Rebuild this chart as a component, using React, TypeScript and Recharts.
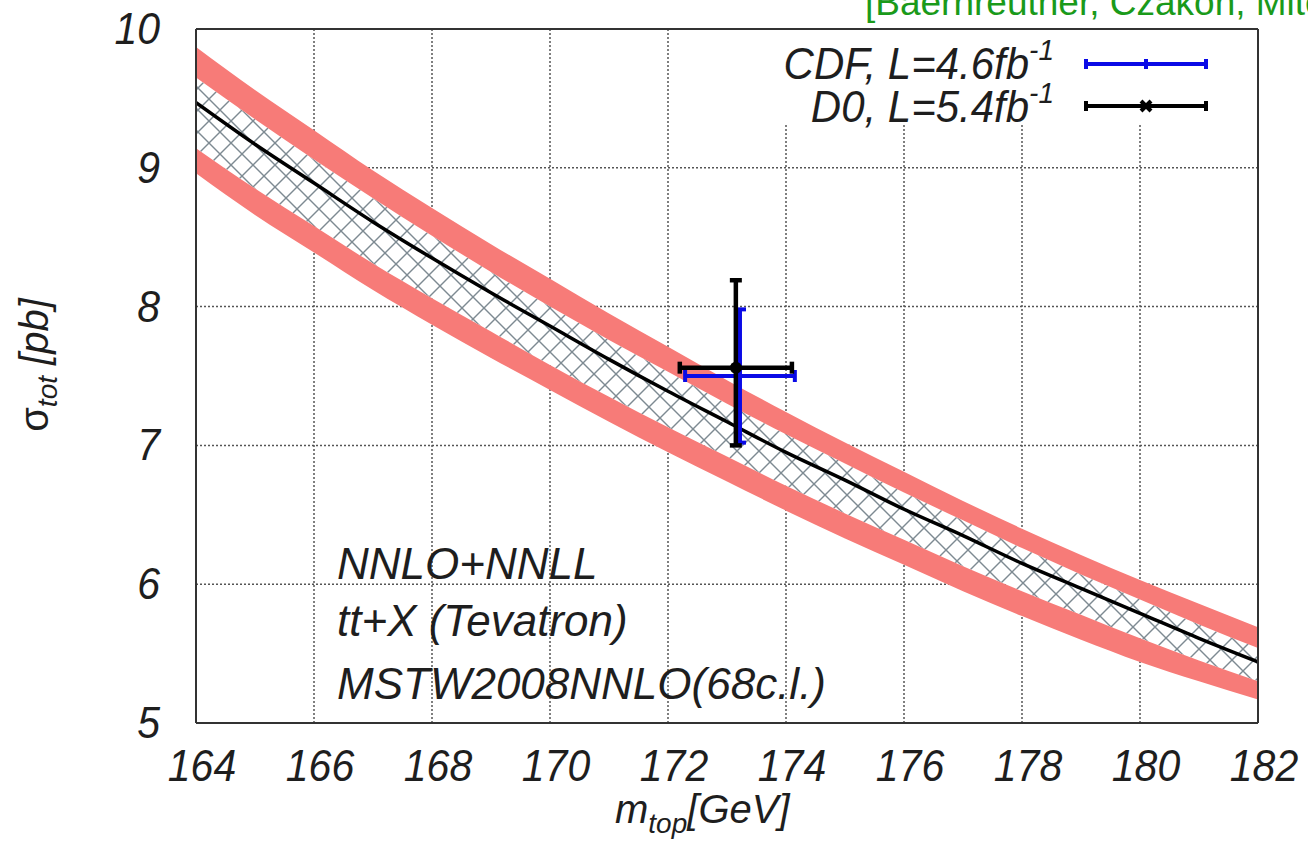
import React from 'react';
import {
  ComposedChart,
  Area,
  Line,
  Scatter,
  ErrorBar,
  XAxis,
  YAxis,
  CartesianGrid,
  ReferenceArea,
} from 'recharts';

// ---- data ----
const MASS = [164, 165, 166, 167, 168, 169, 170, 171, 172, 173, 174, 175, 176, 177, 178, 179, 180, 181, 182];
const CENTRAL = [9.47, 9.17, 8.89, 8.61, 8.35, 8.10, 7.86, 7.62, 7.39, 7.17, 6.95, 6.75, 6.54, 6.35, 6.15, 5.97, 5.79, 5.61, 5.44];
const UPPER_OUTER = [9.87, 9.56, 9.27, 8.98, 8.71, 8.45, 8.20, 7.95, 7.71, 7.47, 7.24, 7.02, 6.81, 6.60, 6.40, 6.21, 6.03, 5.86, 5.69];
const UPPER_INNER = [9.65, 9.35, 9.06, 8.78, 8.51, 8.25, 8.00, 7.76, 7.53, 7.30, 7.08, 6.87, 6.66, 6.46, 6.26, 6.07, 5.89, 5.71, 5.54];
const LOWER_INNER = [9.14, 8.85, 8.58, 8.31, 8.06, 7.82, 7.58, 7.35, 7.13, 6.92, 6.71, 6.51, 6.32, 6.13, 5.95, 5.78, 5.61, 5.45, 5.30];
const LOWER_OUTER = [8.96, 8.66, 8.39, 8.12, 7.87, 7.63, 7.40, 7.17, 6.95, 6.74, 6.53, 6.33, 6.14, 5.95, 5.77, 5.60, 5.44, 5.30, 5.17];

const X_TICKS = [164, 166, 168, 170, 172, 174, 176, 178, 180, 182];
const Y_TICKS = [5, 6, 7, 8, 9, 10];

const CDF_POINT = [{ x: 173.22, y: 7.5, ex: 0.93, ey: 0.48 }];
const D0_POINT = [{ x: 173.15, y: 7.56, ex: 0.95, ey: [0.56, 0.63] }];

const ANNOTATION_LINES = ['NNLO+NNLL', 'tt+X (Tevatron)', 'MSTW2008NNLO(68c.l.)'];
const CITATION = '[Baernreuther, Czakon, Mitov]';

const TABLE = MASS.map((m, i) => ({
  x: m,
  central: CENTRAL[i],
  hatch: [LOWER_INNER[i], UPPER_INNER[i]],
  upBand: [UPPER_INNER[i], UPPER_OUTER[i]],
  loBand: [LOWER_OUTER[i], LOWER_INNER[i]],
}));

const FONT = '"Liberation Sans", Arial, Helvetica, sans-serif';
const INK = '#1e1e1e';
const RED = '#f77b78';

const W = 1308;
const H = 864;

const XTick = (props: any) => {
  const { x, y, payload } = props;
  return (
    <text
      transform={`translate(${x + 6},${y + 58}) scale(1,1.1)`}
      textAnchor="middle"
      fontFamily={FONT}
      fontStyle="italic"
      fontSize={41}
      fill={INK}
    >
      {payload.value}
    </text>
  );
};

const YTick = (props: any) => {
  const { x, y, payload } = props;
  return (
    <text
      transform={`translate(${x - 36},${y + 15}) scale(1,1.1)`}
      textAnchor="end"
      fontFamily={FONT}
      fontStyle="italic"
      fontSize={41}
      fill={INK}
    >
      {payload.value}
    </text>
  );
};

const NoTick = () => <g />;

const LegendSample = ({ y, color, center }: { y: number; color: string; center: 'bar' | 'cross' }) => (
  <g stroke={color} strokeWidth={4}>
    <line x1={1086} y1={y} x2={1206} y2={y} />
    <line x1={1086} y1={y - 5} x2={1086} y2={y + 5} />
    <line x1={1206} y1={y - 5} x2={1206} y2={y + 5} />
    {center === 'bar' ? (
      <line x1={1146} y1={y - 5} x2={1146} y2={y + 5} />
    ) : (
      <g>
        <line x1={1141} y1={y - 5} x2={1151} y2={y + 5} />
        <line x1={1141} y1={y + 5} x2={1151} y2={y - 5} />
      </g>
    )}
  </g>
);

const Overlay = () => (
  <svg
    width={W}
    height={H}
    style={{ position: 'absolute', left: 0, top: 0, pointerEvents: 'none' }}
  >
    {/* citation */}
    <text x={865} y={15} fontFamily={FONT} fontSize={37} fill="#1a9a1a">
      {CITATION}
    </text>
    {/* legend */}
    <text
      transform="translate(1054,79) scale(1,1.06)"
      textAnchor="end"
      fontFamily={FONT}
      fontStyle="italic"
      fontSize={42}
      fill={INK}
    >
      CDF, L=4.6fb
      <tspan fontSize={28} dy={-18}>-1</tspan>
    </text>
    <text
      transform="translate(1054,122) scale(1,1.06)"
      textAnchor="end"
      fontFamily={FONT}
      fontStyle="italic"
      fontSize={42}
      fill={INK}
    >
      D0, L=5.4fb
      <tspan fontSize={28} dy={-18}>-1</tspan>
    </text>
    <LegendSample y={64} color="#0a0ae6" center="bar" />
    <LegendSample y={106} color="#000000" center="cross" />
    {/* annotation */}
    {ANNOTATION_LINES.map((t, i) => (
      <text
        key={t}
        x={337}
        y={[579, 636, 699][i]}
        fontFamily={FONT}
        fontStyle="italic"
        fontSize={44}
        fill={INK}
      >
        {t}
      </text>
    ))}
    {/* axis titles */}
    <text x={615} y={823} fontFamily={FONT} fontStyle="italic" fontSize={40} fill={INK}>
      m
      <tspan fontSize={28} dy={10}>top</tspan>
      <tspan dy={-10}>[GeV]</tspan>
    </text>
    <text
      transform="translate(48,365) rotate(-90)"
      textAnchor="middle"
      fontFamily={FONT}
      fontSize={40}
      fill={INK}
    >
      σ
      <tspan fontSize={28} fontStyle="italic" dy={9}>tot</tspan>
      <tspan fontStyle="italic" dy={-9}> [pb]</tspan>
    </text>
  </svg>
);

export default function App() {
  return (
    <div style={{ position: 'absolute', left: 0, top: 0, width: W, height: H, background: '#fff' }}>
      <svg width={0} height={0} style={{ position: 'absolute' }}>
        <defs>
          <pattern id="crosshatch" patternUnits="userSpaceOnUse" width={22} height={22}>
            <rect x={0} y={0} width={22} height={22} fill="#ffffff" />
            <line x1={0} y1={0} x2={22} y2={22} stroke="#7d8a92" strokeWidth={1.4} />
            <line x1={22} y1={0} x2={0} y2={22} stroke="#7d8a92" strokeWidth={1.4} />
          </pattern>
        </defs>
      </svg>
      <ComposedChart
        width={W}
        height={H}
        data={TABLE}
        margin={{ top: 29, right: 50, bottom: 0, left: 0 }}
        style={{ fontFamily: FONT }}
      >
        <CartesianGrid
          horizontalValues={[6, 7, 8, 9]}
          verticalValues={[166, 168, 170, 172, 174, 176, 178, 180]}
          stroke="#555"
          strokeWidth={1.5}
          strokeDasharray="2 2"
        />
        <ReferenceArea x1={173.45} x2={182} y1={9.31} y2={10} fill="#ffffff" fillOpacity={1} stroke="none" />
        <XAxis
          dataKey="x"
          type="number"
          domain={[164, 182]}
          ticks={X_TICKS}
          allowDataOverflow
          height={141}
          tickSize={0}
          tickMargin={0}
          tickLine={false}
          axisLine={{ stroke: '#333', strokeWidth: 2 }}
          tick={<XTick />}
          interval={0}
        />
        <XAxis
          xAxisId="top"
          orientation="top"
          type="number"
          domain={[164, 182]}
          ticks={X_TICKS}
          mirror
          height={1}
          tickSize={8}
          tickLine={{ stroke: '#333', strokeWidth: 1.5 }}
          axisLine={{ stroke: '#333', strokeWidth: 2 }}
          tick={<NoTick />}
          interval={0}
        />
        <YAxis
          type="number"
          domain={[5, 10]}
          ticks={Y_TICKS}
          allowDataOverflow
          width={196}
          tickSize={0}
          tickMargin={0}
          tickLine={false}
          axisLine={{ stroke: '#333', strokeWidth: 2 }}
          tick={<YTick />}
          interval={0}
        />
        <YAxis
          yAxisId="right"
          orientation="right"
          type="number"
          domain={[5, 10]}
          ticks={Y_TICKS}
          mirror
          width={1}
          tickSize={8}
          tickLine={{ stroke: '#333', strokeWidth: 1.5 }}
          axisLine={{ stroke: '#333', strokeWidth: 2 }}
          tick={<NoTick />}
          interval={0}
        />
        <Area
          dataKey="hatch"
          type="monotone"
          fill="url(#crosshatch)"
          fillOpacity={1}
          stroke="none"
          isAnimationActive={false}
          activeDot={false}
        />
        <Area
          dataKey="upBand"
          type="monotone"
          fill={RED}
          fillOpacity={1}
          stroke="none"
          isAnimationActive={false}
          activeDot={false}
        />
        <Area
          dataKey="loBand"
          type="monotone"
          fill={RED}
          fillOpacity={1}
          stroke="none"
          isAnimationActive={false}
          activeDot={false}
        />
        <Line
          dataKey="central"
          type="monotone"
          stroke="#000"
          strokeWidth={3.5}
          dot={false}
          activeDot={false}
          isAnimationActive={false}
        />
        <Scatter
          data={CDF_POINT}
          dataKey="y"
          fill="#0a0ae6"
          shape={() => <g />}
          isAnimationActive={false}
        >
          <ErrorBar dataKey="ex" direction="x" stroke="#0a0ae6" strokeWidth={4} width={6} />
          <ErrorBar dataKey="ey" direction="y" stroke="#0a0ae6" strokeWidth={4} width={6} />
        </Scatter>
        <Scatter
          data={D0_POINT}
          dataKey="y"
          fill="#000"
          shape={(p: any) => <circle cx={p.cx} cy={p.cy} r={6} fill="#000" />}
          isAnimationActive={false}
        >
          <ErrorBar dataKey="ex" direction="x" stroke="#000" strokeWidth={4.5} width={6} />
          <ErrorBar dataKey="ey" direction="y" stroke="#000" strokeWidth={4.5} width={6} />
        </Scatter>
      </ComposedChart>
      <Overlay />
    </div>
  );
}
